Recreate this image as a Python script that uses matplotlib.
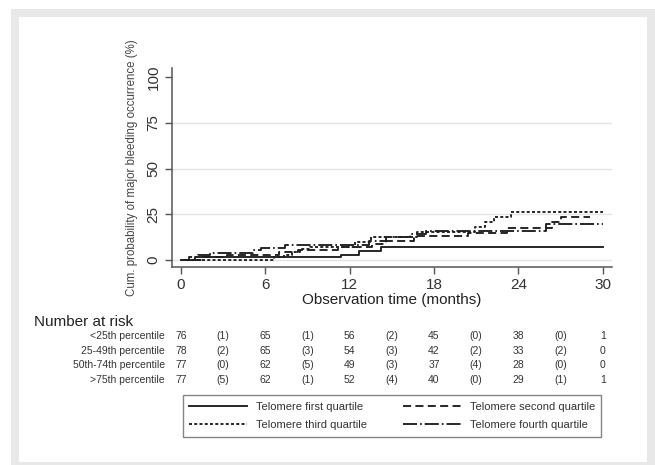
import matplotlib
matplotlib.use("Agg")
import matplotlib.pyplot as plt
from matplotlib.lines import Line2D
from matplotlib.patches import Rectangle

plt.rcParams['font.family'] = ['Liberation Sans', 'DejaVu Sans']

# cumulative incidence step curves (months, %)
t_first = [0, 1.0, 11.4, 12.7, 14.2, 30]
v_first = [0, 1.3, 2.4, 4.6, 7.3, 7.3]

t_second = [0, 1.6, 3.3, 7.0, 8.3, 11.2, 13.6, 14.6, 16.6, 20.4, 23.2, 26.4, 27.0, 29.1]
v_second = [0, 1.3, 2.7, 4.1, 5.5, 6.9, 8.8, 10.6, 12.8, 14.8, 17.2, 20.6, 23.3, 23.3]

t_third = [0, 6.6, 7.3, 7.9, 8.5, 9.2, 12.4, 13.5, 16.8, 20.9, 21.6, 22.3, 23.5, 30]
v_third = [0, 1.4, 2.8, 4.2, 5.7, 7.2, 9.8, 12.6, 15.2, 18.2, 20.6, 23.4, 26.2, 26.2]

t_fourth = [0, 0.6, 1.2, 2.1, 5.1, 5.7, 7.4, 13.4, 14.6, 16.3, 17.4, 26.0, 30]
v_fourth = [0, 1.3, 2.6, 3.9, 5.3, 6.7, 8.1, 10.2, 12.3, 14.2, 16.0, 19.6, 19.6]

legend_labels = ["Telomere first quartile", "Telomere second quartile",
                 "Telomere third quartile", "Telomere fourth quartile"]

# number at risk table
risk_rows = ["<25th percentile", "25-49th percentile", "50th-74th percentile", ">75th percentile"]
at_risk = [[76, 65, 56, 45, 38, 1],
           [78, 65, 54, 42, 33, 0],
           [77, 62, 49, 37, 28, 0],
           [77, 62, 52, 40, 29, 1]]
events = [[1, 1, 2, 0, 0],
          [2, 3, 3, 2, 2],
          [0, 5, 3, 4, 0],
          [5, 1, 4, 0, 1]]

W, H = 655, 465
def fx(px):
    return px / W
def fy(py):
    return 1 - py / H

fig = plt.figure(figsize=(W / 100, H / 100), dpi=100)
fig.patch.set_facecolor("white")
# grey frame around the graph region
fig.patches.append(Rectangle((fx(11), fy(470)), fx(660) - fx(11), fy(9) - fy(470),
                             transform=fig.transFigure, facecolor="#e8e8e8",
                             edgecolor="none", zorder=-3))
fig.patches.append(Rectangle((fx(18.5), fy(462)), fx(646.5) - fx(18.5), fy(16.7) - fy(462),
                             transform=fig.transFigure, facecolor="white",
                             edgecolor="none", zorder=-2))

ax = fig.add_axes([fx(171.5), fy(267), fx(611.7) - fx(171.5), fy(68) - fy(267)])
ax.set_facecolor("none")

lw = 1.35
ink = "#1e1e1e"
styles = ["-", (0, (4.3, 2.3)), (0, (1.6, 1.2)), (0, (7.5, 1.6, 0.9, 1.6))]
curves = [(t_first, v_first), (t_second, v_second), (t_third, v_third), (t_fourth, v_fourth)]
for (t, v), ls in zip(curves, styles):
    ax.step(t, v, where="post", color=ink, lw=lw, linestyle=ls, zorder=3)

ax.set_xlim(-0.67, 30.64)
ax.set_ylim(-3.9, 105)
ax.set_xticks([0, 6, 12, 18, 24, 30])
ax.set_yticks([0, 25, 50, 75, 100])
for g in [0, 25, 50, 75]:
    ax.axhline(g, color="#e4e4e4", lw=1.0, zorder=1)

for s in ["top", "right"]:
    ax.spines[s].set_visible(False)
for s in ["left", "bottom"]:
    ax.spines[s].set_color("#555555")
    ax.spines[s].set_linewidth(1.1)
ax.tick_params(direction="out", length=5, width=1, color="#555555",
               labelsize=11, labelcolor="#333333", pad=3)
for lab in ax.get_yticklabels():
    lab.set_rotation(90)
    lab.set_va("center")

ax.set_xlabel("Observation time (months)", fontsize=11, color="#222222", labelpad=0.5)
ax.set_ylabel("Cum. probability of major bleeding occurrence (%)", fontsize=8.3,
              color="#444444", labelpad=6)

# number at risk table, columns aligned to the time axis
fig.text(fx(34), fy(322), "Number at risk", fontsize=11, color="#222222", va="center")
row_y = [336, 350.5, 365, 379.5]
for i, name in enumerate(risk_rows):
    yy = fy(row_y[i])
    fig.text(fx(165), yy, name, fontsize=7.5, color="#333333", ha="right", va="center")
    for j, n in enumerate(at_risk[i]):
        xd = ax.transData.transform((6 * j, 0))[0] / fig.bbox.width
        fig.text(xd, yy, str(n), fontsize=7.5, color="#333333", ha="center", va="center")
    for j, e in enumerate(events[i]):
        xd = ax.transData.transform((6 * j + 3, 0))[0] / fig.bbox.width
        fig.text(xd, yy, "(%d)" % e, fontsize=7.5, color="#333333", ha="center", va="center")

handles = [Line2D([0], [0], color=ink, lw=lw, linestyle=ls) for ls in styles]
order = [0, 2, 1, 3]  # legend fills by column; reference reads row by row
leg = fig.legend([handles[k] for k in order], [legend_labels[k] for k in order],
                 ncol=2, loc="center", mode="expand",
                 bbox_to_anchor=(fx(177), fy(441), fx(607) - fx(177), fy(391) - fy(441)),
                 fontsize=8, frameon=True, fancybox=False, handlelength=5.2,
                 handletextpad=0.8, labelspacing=0.75, borderpad=0.6,
                 columnspacing=2.0)
leg.get_frame().set_edgecolor("#666666")
leg.get_frame().set_linewidth(1.0)
for txt in leg.get_texts():
    txt.set_color("#333333")

fig.savefig("out.png", dpi=100)
